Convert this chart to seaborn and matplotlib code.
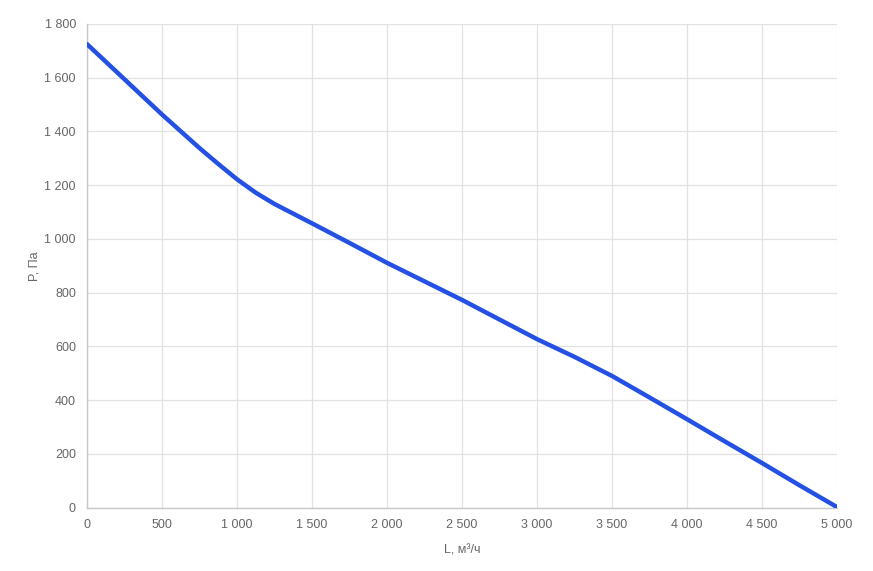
import pandas as pd
import matplotlib
matplotlib.use("Agg")
from matplotlib import pyplot as plt
import seaborn as sb

# curve
flow = [0, 250, 500, 750, 875, 1000, 1125, 1250, 1500, 1750, 2000, 2250, 2500,
        2750, 3000, 3250, 3500, 3750, 4000, 4250, 4500, 4750, 5000]
pressure = [1725, 1594, 1463, 1338, 1279, 1222, 1172, 1130, 1058, 985, 911, 842, 773,
            700, 627, 561, 490, 410, 329, 247, 166, 83, 2]

x_ticks = [0, 500, 1000, 1500, 2000, 2500, 3000, 3500, 4000, 4500, 5000]
x_labels = ["0", "500", "1 000", "1 500", "2 000", "2 500", "3 000", "3 500", "4 000", "4 500", "5 000"]
y_ticks = [0, 200, 400, 600, 800, 1000, 1200, 1400, 1600, 1800]
y_labels = ["0", "200", "400", "600", "800", "1 000", "1 200", "1 400", "1 600", "1 800"]

df = pd.DataFrame({"L": flow, "P": pressure})

sb.set_style("white")
plt.rcParams["font.family"] = ["Liberation Sans", "DejaVu Sans"]

fig = plt.figure(figsize=(8.73, 5.71), dpi=100)
ax = fig.add_axes([0.0997, 0.111, 0.8591, 0.847])

sb.lineplot(x="L", y="P", data=df, ax=ax, color="#2451e3", linewidth=3.2, zorder=3)

ax.set_xlim(0, 5000)
ax.set_ylim(0, 1800)
ax.set_xticks(x_ticks)
ax.set_xticklabels(x_labels)
ax.set_yticks(y_ticks)
ax.set_yticklabels(y_labels)

ax.grid(True, color="#e2e2e2", linewidth=0.9)
ax.tick_params(axis="both", colors="#d0d0d0", labelcolor="#666666", labelsize=9,
               length=5, width=0.9, direction="out", pad=3)
for s in ["top", "right"]:
    ax.spines[s].set_visible(False)
for s in ["left", "bottom"]:
    ax.spines[s].set_color("#c8c8c8")
    ax.spines[s].set_linewidth(1)

ax.set_xlabel("L, м³/ч", color="#666666", fontsize=9, labelpad=10)
ax.set_ylabel("P, Па", color="#666666", fontsize=9, labelpad=3)

plt.savefig("out.png", dpi=100)
plt.close()
